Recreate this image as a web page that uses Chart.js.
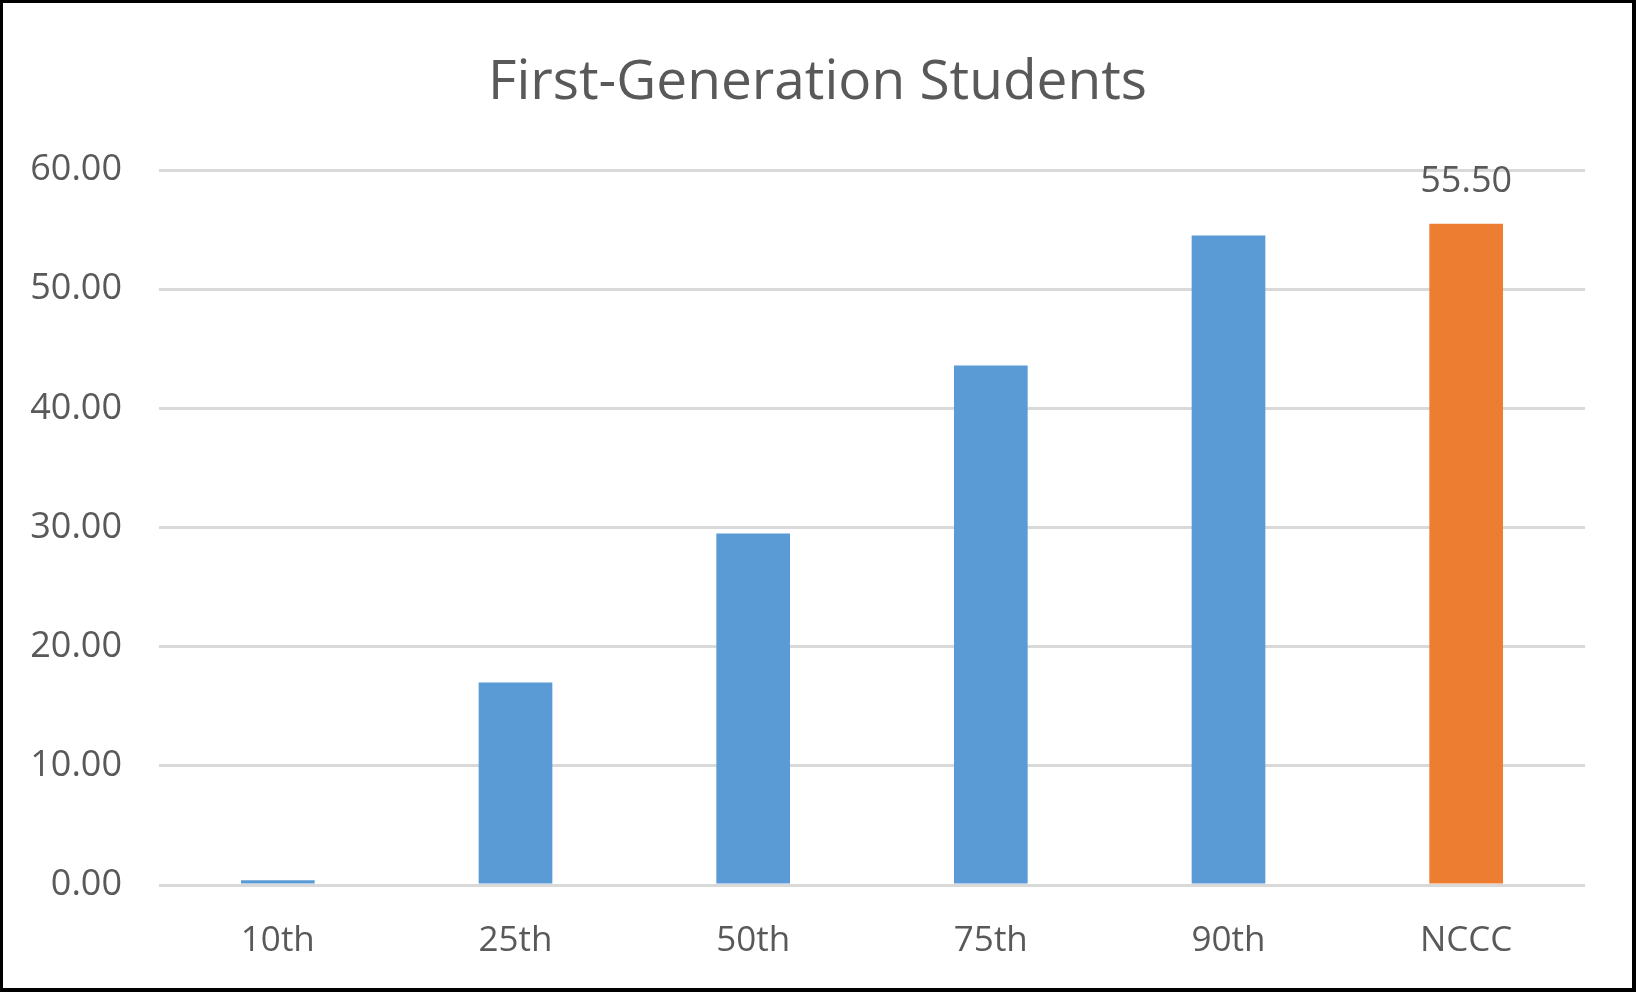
<!DOCTYPE html>
<html>
<head>
<meta charset="utf-8">
<title>First-Generation Students</title>
<script src="https://cdn.jsdelivr.net/npm/chart.js@4/dist/chart.umd.min.js"></script>
<style>
  html, body { margin: 0; padding: 0; background: #fff; }
  #frame {
    width: 1636px; height: 992px; box-sizing: border-box;
    border-style: solid; border-color: #000; border-width: 3px 4px 4px 3px;
  }
  canvas { display: block; }
</style>
</head>
<body>
<div id="frame"><canvas id="chart" width="1629" height="985"></canvas></div>
<script>
// First-Generation Students — percentile benchmarks vs NCCC

const TITLE = 'First-Generation Students';
const CATEGORIES = ['10th', '25th', '50th', '75th', '90th', 'NCCC'];
const VALUES = [0.4, 17.0, 29.5, 43.6, 54.5, 55.5];
const BAR_COLORS = ['#5B9BD5', '#5B9BD5', '#5B9BD5', '#5B9BD5', '#5B9BD5', '#ED7D31'];
// only the NCCC bar carries a value label
const LABELLED = [false, false, false, false, false, true];

const TEXT = '#595959';
const FONT = '"Open Sans", "Noto Sans", sans-serif';

// ── Plugins ───────────────────────────────────────────────

// Title centred on the whole canvas (the built-in one centres between layout paddings)
const centredTitle = {
  id: 'centredTitle',
  afterDraw(chart) {
    const ctx = chart.ctx;
    ctx.save();
    ctx.fillStyle = TEXT;
    ctx.font = `55px ${FONT}`;
    ctx.textAlign = 'center';
    ctx.textBaseline = 'middle';
    ctx.fillText(TITLE, chart.width / 2, 80);
    ctx.restore();
  },
};

const barLabels = {
  id: 'barLabels',
  afterDatasetsDraw(chart) {
    const ctx = chart.ctx;
    const meta = chart.getDatasetMeta(0);
    ctx.save();
    ctx.fillStyle = TEXT;
    ctx.font = `36px ${FONT}`;
    ctx.textAlign = 'center';
    ctx.textBaseline = 'middle';
    meta.data.forEach((bar, i) => {
      if (!LABELLED[i]) return;
      ctx.fillText(VALUES[i].toFixed(2), bar.x, bar.y - 42);
    });
    ctx.restore();
  },
};

new Chart(document.getElementById('chart'), {
  type: 'bar',
  data: {
    labels: CATEGORIES,
    datasets: [{
      data: VALUES,
      backgroundColor: BAR_COLORS,
      borderWidth: 0,
      barPercentage: 0.62,
      categoryPercentage: 0.5,
    }],
  },
  options: {
    responsive: false,
    animation: false,
    layout: { padding: { top: 167, right: 47, left: 0, bottom: 0 } },
    plugins: {
      legend: { display: false },
      tooltip: { enabled: false },
      title: { display: false },
    },
    scales: {
      x: {
        grid: { display: false },
        border: { display: false },
        ticks: { color: TEXT, font: { family: FONT, size: 35 }, padding: 27, maxRotation: 0 },
        afterFit(scale) { scale.height = 103; },
      },
      y: {
        min: 0,
        max: 60,
        grid: { color: '#d9d9d9', lineWidth: 3, drawTicks: false },
        border: { display: false },
        ticks: {
          stepSize: 10,
          color: TEXT,
          font: { family: FONT, size: 36 },
          padding: 37,
          callback: v => v.toFixed(2),
        },
        afterFit(scale) { scale.width = 156; },
      },
    },
  },
  plugins: [barLabels, centredTitle],
});
</script>
</body>
</html>
